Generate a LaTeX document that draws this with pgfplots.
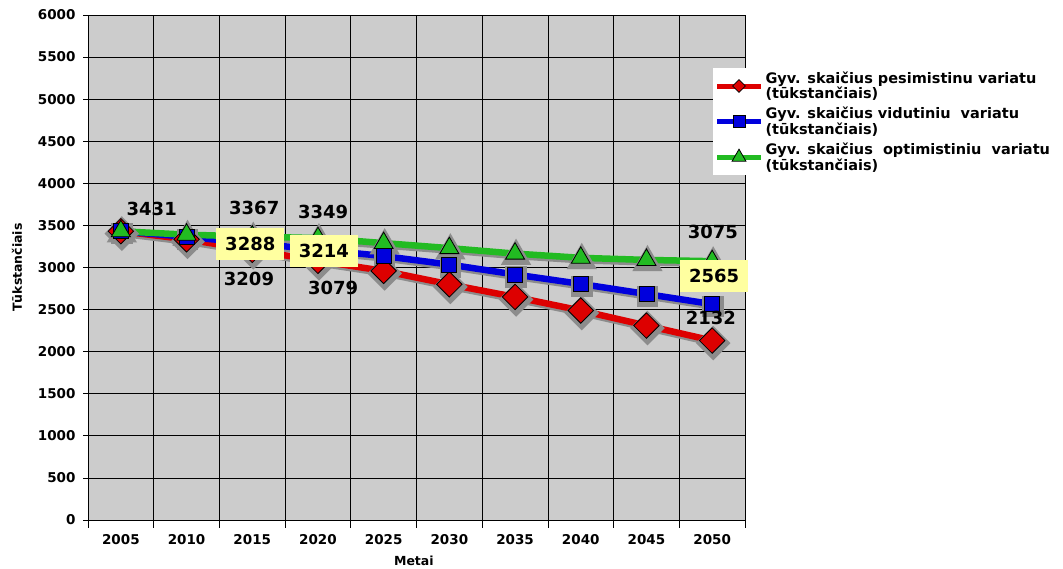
\documentclass[border=0pt]{standalone}
\usepackage{fontspec}
\setmainfont{DejaVu Sans}
\usepackage{pgfplots}
\pgfplotsset{compat=1.18}
\definecolor{plotbg}{RGB}{204,204,204}
\definecolor{cred}{RGB}{221,0,0}
\definecolor{cblue}{RGB}{0,0,221}
\definecolor{cgreen}{RGB}{34,187,34}
\definecolor{lbox}{RGB}{255,255,160}
\definecolor{shad}{RGB}{140,140,140}
\pgfplotstableread{
x y
0 3431
1 3335
2 3209
3 3079
4 2960
5 2800
6 2650
7 2489
8 2310
9 2132
}\red
\pgfplotstableread{
x y
0 3431
1 3365
2 3288
3 3214
4 3136
5 3035
6 2917
7 2805
8 2685
9 2565
}\blue
\pgfplotstableread{
x y
0 3431
1 3390
2 3367
3 3349
4 3290
5 3230
6 3165
7 3115
8 3090
9 3075
}\green
\begin{document}
\begin{tikzpicture}[x=1pt,y=1pt]
\useasboundingbox (0,0) rectangle (1063,569);
\begin{axis}[
  at={(88pt,49pt)}, anchor=south west,
  scale only axis, width=657pt, height=505pt,
  xmin=-0.5, xmax=9.5, ymin=0, ymax=6000,
  axis background/.style={fill=plotbg},
  xtick={0,...,9},
  xticklabels={2005,2010,2015,2020,2025,2030,2035,2040,2045,2050},
  minor xtick={-0.5,0.5,...,9.5},
  ytick={0,500,...,6000},
  xminorgrids, ymajorgrids,
  grid style={black, line width=0.8pt},
  minor grid style={black, line width=0.8pt},
  tick align=outside, xtick pos=left, ytick pos=left,
  major x tick style={draw=none},
  minor tick length=8pt, major tick length=5pt,
  tick style={black, line width=0.8pt},
  axis line style={black, line width=0.8pt},
  /pgf/number format/assume math mode=true,
  /pgf/number format/1000 sep={},
  every tick label/.append style={font=\bfseries\fontsize{13.5}{15}\selectfont},
  xticklabel style={yshift=-6pt},
  yticklabel style={xshift=-4pt},
  xlabel={Metai}, ylabel={Tūkstančiais},
  xlabel style={font=\bfseries\fontsize{12.5}{14}\selectfont, at={(axis description cs:0.496,-0.081)}, anchor=center},
  ylabel style={font=\bfseries\fontsize{12.5}{14}\selectfont, at={(axis description cs:-0.108,0.5)}, anchor=center},
  legend cell align=left,
  legend style={at={(rel axis cs:0.951,0.895)}, anchor=north west, fill=white, draw=none,
    font=\bfseries\fontsize{14.5}{15.5}\selectfont, cells={align=left}, inner sep=1.5pt, row sep=3pt,
    /tikz/every even column/.append style={column sep=2pt}},
  legend image code/.code={
    \draw[#1, mark repeat=2, mark phase=2, line width=5pt] plot coordinates {(0pt,0pt) (22pt,0pt) (44pt,0pt)};
  },
]
% shadows
\addplot[shad, line width=6.5pt, mark=square*, mark size=9pt, mark options={rotate=45, fill=shad, draw=shad}, xshift=1pt, yshift=-2.5pt, forget plot] table {\red};
\addplot[shad, line width=6.5pt, mark=square*, mark size=7.5pt, mark options={fill=shad, draw=shad}, xshift=1pt, yshift=-2.5pt, forget plot] table {\blue};
\addplot[shad, line width=6.5pt, mark=triangle*, mark size=11pt, mark options={fill=shad, draw=shad}, xshift=1pt, yshift=-2.5pt, forget plot] table {\green};
% series
\addplot[cred, line width=6.5pt, mark=square*, mark size=9pt, mark options={rotate=45, fill=cred, draw=black, line width=0.8pt}, legend image post style={mark size=4.5pt}] table {\red};
\addlegendentry{Gyv. skaičius pesimistinu variatu\\(tūkstančiais)}
\addplot[cblue, line width=6.5pt, mark=square*, mark size=7.5pt, mark options={fill=cblue, draw=black, line width=0.8pt}, legend image post style={mark size=6pt}] table {\blue};
\addlegendentry{Gyv. skaičius vidutiniu\ \ variatu\\(tūkstančiais)}
\addplot[cgreen, line width=6.5pt, mark=triangle*, mark size=11pt, mark options={fill=cgreen, draw=black, line width=0.8pt}, legend image post style={mark size=8pt}] table {\green};
\addlegendentry{Gyv. skaičius\ \ optimistiniu\ \ variatu\\(tūkstančiais)}
\coordinate (a1) at (axis cs:0.47,3695);
\coordinate (a2) at (axis cs:2.03,3707);
\coordinate (a3) at (axis cs:3.08,3659);
\coordinate (a4) at (axis cs:1.95,2863);
\coordinate (a5) at (axis cs:3.23,2756);
\coordinate (a6) at (axis cs:9.01,3422);
\coordinate (a7) at (axis cs:8.98,2400);
\coordinate (b1) at (axis cs:1.97,3279);
\coordinate (b2) at (axis cs:3.09,3196);
\coordinate (b3) at (axis cs:9.03,2899);
\end{axis}
\begin{scope}[every node/.style={font=\bfseries\fontsize{18}{20}\selectfont}]
\node at (a1) {3431};
\node at (a2) {3367};
\node at (a3) {3349};
\node at (a4) {3209};
\node at (a5) {3079};
\node at (a6) {3075};
\node at (a7) {2132};
\node[fill=lbox, minimum width=68pt, minimum height=32pt] at (b1) {3288};
\node[fill=lbox, minimum width=68pt, minimum height=32pt] at (b2) {3214};
\node[fill=lbox, minimum width=68pt, minimum height=32pt] at (b3) {2565};
\end{scope}
\end{tikzpicture}
\end{document}
